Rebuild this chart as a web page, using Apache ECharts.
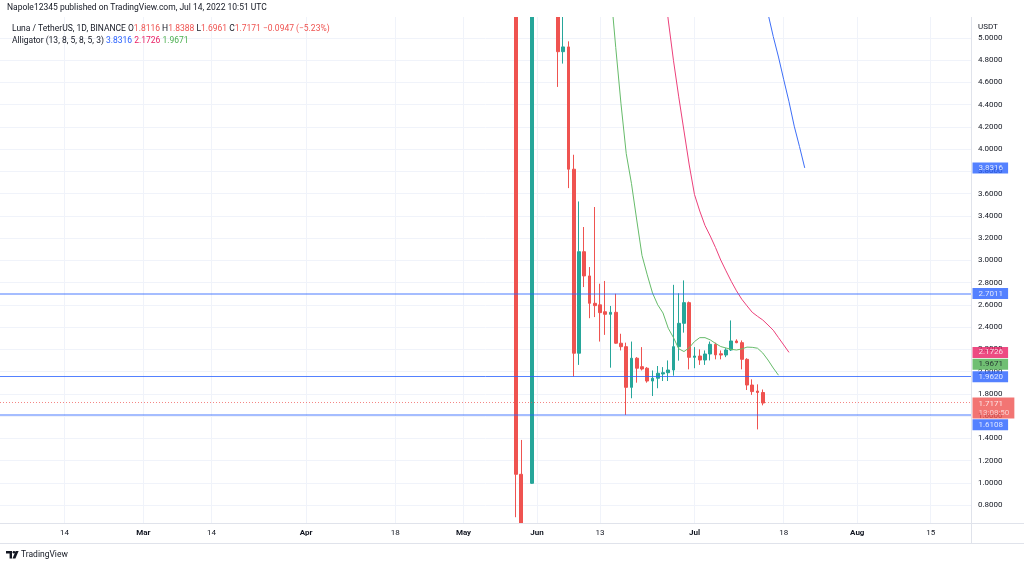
<!DOCTYPE html>
<html><head><meta charset="utf-8">
<script src="https://cdn.jsdelivr.net/npm/echarts@6/dist/echarts.min.js"></script>
<style>html,body{margin:0;padding:0;background:#fff}#c{width:1024px;height:567px}</style>
</head><body><div id="c"></div>
<script>
// TradingView bar-index time scale: index 0 = 2022-06-01
const barIdx   = [-4,-3,-1,4,5,6,7,8,9,10,11,12,13,14,15,16,17,18,19,20,21,22,23,24,25,26,27,28,29,30,31,32,33,34,35,36,37,38,39,40,41,42,43];
const barDates = ['2022-05-11','2022-05-12','2022-05-31','2022-06-05','2022-06-06','2022-06-07','2022-06-08','2022-06-09','2022-06-10','2022-06-11','2022-06-12','2022-06-13','2022-06-14','2022-06-15','2022-06-16','2022-06-17','2022-06-18','2022-06-19','2022-06-20','2022-06-21','2022-06-22','2022-06-23','2022-06-24','2022-06-25','2022-06-26','2022-06-27','2022-06-28','2022-06-29','2022-06-30','2022-07-01','2022-07-02','2022-07-03','2022-07-04','2022-07-05','2022-07-06','2022-07-07','2022-07-08','2022-07-09','2022-07-10','2022-07-11','2022-07-12','2022-07-13','2022-07-14'];
const openV  = [5.6,1.076,0.995,5.6,4.877,4.92,3.82,2.165,3.078,2.86,2.614,2.60,2.538,2.515,2.533,2.255,2.224,1.858,2.12,2.044,2.03,1.915,1.94,1.978,1.99,2.014,2.224,2.434,2.62,2.128,2.14,2.104,2.158,2.245,2.16,2.149,2.194,2.275,2.26,2.11,1.879,1.825,1.8116];
const closeV = [1.076,0.45,6.5,4.877,4.92,3.82,2.165,3.078,2.86,2.614,2.593,2.53,2.515,2.533,2.255,2.224,1.858,2.12,2.03,2.023,1.915,1.94,1.985,1.99,2.014,2.224,2.434,2.62,2.128,2.14,2.104,2.158,2.245,2.15,2.149,2.194,2.275,2.26,2.11,1.879,1.82,1.8118,1.7171];
const lowV   = [0.69,0.40,0.99,4.56,4.77,3.65,1.955,2.06,2.76,2.48,2.49,2.27,2.33,2.035,2.25,2.19,1.61,1.76,1.90,2.01,1.90,1.78,1.85,1.915,1.915,1.963,2.098,2.35,2.02,2.03,2.06,2.06,2.10,2.11,2.11,2.13,2.185,2.255,2.02,1.834,1.79,1.48,1.6961];
const highV  = [6.0,1.385,7.5,5.8,5.4,4.97,3.95,3.53,3.30,2.94,3.48,2.79,2.815,2.59,2.70,2.34,2.26,2.27,2.13,2.22,2.04,2.01,2.05,2.04,2.10,2.78,2.704,2.82,2.63,2.22,2.20,2.19,2.27,2.26,2.19,2.21,2.46,2.29,2.28,2.12,1.93,1.885,1.8388];

// Alligator (13, 8, 5, 8, 5, 3) — values already shifted forward
const lipsStart = 14;
const lipsV  = [5.45,4.915,4.408,3.96,3.69,3.363,3.045,2.87,2.707,2.60,2.527,2.39,2.305,2.205,2.18,2.215,2.27,2.305,2.305,2.285,2.253,2.225,2.212,2.20,2.194,2.203,2.22,2.218,2.21,2.167,2.104,2.032,1.9671];
const teethStart = 24;
const teethV = [5.58,5.162,4.797,4.471,4.164,3.858,3.592,3.444,3.314,3.219,3.116,3.003,2.906,2.812,2.726,2.651,2.591,2.533,2.497,2.464,2.419,2.372,2.305,2.239,2.1726];
const jawStart = 43;
const jawV   = [5.41,5.22,5.014,4.829,4.625,4.427,4.207,4.024,3.8316];

// horizontal lines drawn on the chart
const hLines = [2.7011, 1.9620, 1.6108];
const countdown = '13:08:50';

// axis ticks
const xTickIdx  = [-90,-75,-62,-44,-27,-14,0,12,30,47,61,75];
const xTickText = ['14','Mar','14','Apr','18','May','Jun','13','Jul','18','Aug','15'];
const xTickBold = [false,true,false,true,false,true,true,false,true,false,true,false];
const yTicks = [0.8,1.0,1.2,1.4,1.6,1.8,2.0,2.2,2.4,2.6,2.8,3.0,3.2,3.4,3.6,3.8,4.0,4.2,4.4,4.6,4.8,5.0];

const FONT = 'Roboto';
const UP = '#26a69a', DOWN = '#ef5350';
const X_MIN = -102.29, X_MAX = 82.67, Y_MIN = 0.638, Y_MAX = 5.189;

const candleData = barIdx.map((x, i) => [x, openV[i], closeV[i], lowV[i], highV[i]]);
const mkLine = (start, vals) => vals.map((v, i) => [start + i, v]);

const n = closeV.length;
const lastO = openV[n-1], lastH = highV[n-1], lastL = lowV[n-1], lastC = closeV[n-1], prevC = closeV[n-2];
const chg = lastC - prevC, pct = chg / prevC * 100;
const fmt = (v) => v.toFixed(4);
const sgn = (v, d) => (v < 0 ? '\u2212' : '+') + Math.abs(v).toFixed(d);
const jawLast = jawV[jawV.length-1], teethLast = teethV[teethV.length-1], lipsLast = lipsV[lipsV.length-1];

const badgeBase = {show: true, position: 'right', distance: 1, fontSize: 8, fontFamily: FONT, lineHeight: 9, padding: [1, 5, 1, 6]};
const badges = [
  {value: [0, jawLast],   label: Object.assign({}, badgeBase, {backgroundColor: '#2962ff', color: '#fff', offset: [0, 0], formatter: fmt(jawLast)})},
  {value: [0, hLines[0]], label: Object.assign({}, badgeBase, {backgroundColor: '#2962ff', color: '#fff', offset: [0, 0], formatter: fmt(hLines[0])})},
  {value: [0, teethLast], label: Object.assign({}, badgeBase, {backgroundColor: '#e91e63', color: '#fff', offset: [0, 0], formatter: fmt(teethLast)})},
  {value: [0, lipsLast],  label: Object.assign({}, badgeBase, {backgroundColor: '#4caf50', color: '#131722', offset: [0, -11], formatter: fmt(lipsLast)})},
  {value: [0, hLines[1]], label: Object.assign({}, badgeBase, {backgroundColor: '#2962ff', color: '#fff', offset: [0, 1], formatter: fmt(hLines[1])})},
  {value: [0, hLines[2]], label: Object.assign({}, badgeBase, {backgroundColor: '#2962ff', color: '#fff', offset: [0, 10], formatter: fmt(hLines[2])})},
  {value: [0, lastC],     label: Object.assign({}, badgeBase, {backgroundColor: '#ef5350', color: '#fff', offset: [0, 5], padding: [2, 5, 1, 6],
      formatter: '{a|' + fmt(lastC) + '}\n{b|' + countdown + '}',
      rich: {a: {color: '#fff', fontSize: 8, fontFamily: FONT, lineHeight: 9}, b: {color: 'rgba(255,255,255,0.8)', fontSize: 8, fontFamily: FONT, lineHeight: 9}}})}
];

const F = (s) => s + 'px ' + FONT;

const chart = echarts.init(document.getElementById('c'), null, {renderer: 'canvas'});
chart.setOption({
  animation: false,
  backgroundColor: '#ffffff',
  grid: [
    {left: 0, right: 53, top: 17, bottom: 44},
    {left: 971, right: 0, top: 17, bottom: 44}
  ],
  xAxis: [
    {type: 'value', gridIndex: 0, position: 'bottom', min: X_MIN, max: X_MAX, z: 101,
     axisLine: {show: false}, axisTick: {show: false, customValues: xTickIdx},
     splitLine: {show: false},
     axisLabel: {customValues: xTickIdx, margin: 6, color: '#131722', fontSize: 8, fontFamily: FONT,
       formatter: (v) => { const k = xTickIdx.findIndex(t => Math.abs(t - v) < 1e-6); if (k < 0) return ''; return xTickBold[k] ? '{b|' + xTickText[k] + '}' : xTickText[k]; },
       rich: {b: {fontWeight: 'bold', fontSize: 8, fontFamily: FONT, color: '#131722'}}}},
    {type: 'value', gridIndex: 0, position: 'top', min: X_MIN, max: X_MAX,
     axisLine: {show: false}, axisTick: {show: false, customValues: xTickIdx}, axisLabel: {show: false, customValues: xTickIdx},
     splitLine: {show: true, lineStyle: {color: '#f0f3fa', width: 1}}},
    {type: 'value', gridIndex: 1, min: 0, max: 1, show: false}
  ],
  yAxis: [
    {type: 'value', gridIndex: 0, position: 'right', min: Y_MIN, max: Y_MAX,
     axisLine: {show: false}, axisTick: {show: false, customValues: yTicks},
     splitLine: {show: true, lineStyle: {color: '#f0f3fa', width: 1}},
     axisLabel: {customValues: yTicks, margin: 7, color: '#131722', fontSize: 8, fontFamily: FONT, formatter: (v) => v.toFixed(4)}},
    {type: 'value', gridIndex: 1, min: Y_MIN, max: Y_MAX, show: false}
  ],
  series: [
    {type: 'candlestick', name: 'LUNAUSDT', xAxisIndex: 0, yAxisIndex: 0, clip: true, barWidth: 3.4,
     dimensions: ['idx', 'open', 'close', 'lowest', 'highest'], encode: {x: 0, y: [1, 2, 3, 4]},
     data: candleData,
     itemStyle: {color: UP, color0: DOWN, borderColor: UP, borderColor0: DOWN, borderWidth: 1},
     markLine: {silent: true, symbol: ['none', 'none'], label: {show: false}, animation: false,
       data: [
         {yAxis: hLines[0], lineStyle: {color: 'rgba(41,98,255,0.42)', width: 2, type: 'solid'}},
         {yAxis: hLines[1], lineStyle: {color: 'rgba(41,98,255,0.8)', width: 1, type: 'solid'}},
         {yAxis: hLines[2], lineStyle: {color: 'rgba(41,98,255,0.42)', width: 2, type: 'solid'}},
         {yAxis: lastC, lineStyle: {color: 'rgba(239,83,80,0.7)', width: 1, type: [1, 2]}}
       ]}},
    {type: 'line', name: 'Lips', xAxisIndex: 0, yAxisIndex: 0, data: mkLine(lipsStart, lipsV), showSymbol: false, symbol: 'none', clip: true, z: 3,
     lineStyle: {color: '#66bb6a', width: 1}},
    {type: 'line', name: 'Teeth', xAxisIndex: 0, yAxisIndex: 0, data: mkLine(teethStart, teethV), showSymbol: false, symbol: 'none', clip: true, z: 3,
     lineStyle: {color: '#ec407a', width: 1}},
    {type: 'line', name: 'Jaw', xAxisIndex: 0, yAxisIndex: 0, data: mkLine(jawStart, jawV), showSymbol: false, symbol: 'none', clip: true, z: 3,
     lineStyle: {color: '#3d6ef7', width: 1}},
    {type: 'scatter', name: 'badges', xAxisIndex: 2, yAxisIndex: 1, symbolSize: 1, itemStyle: {color: 'rgba(0,0,0,0)'}, silent: true, z: 10,
     data: badges}
  ],
  graphic: [
    // masks outside the plotting pane
    {type: 'rect', silent: true, z: 50, shape: {x: 0, y: 0, width: 971, height: 17}, style: {fill: '#ffffff'}},
    {type: 'rect', silent: true, z: 50, shape: {x: 0, y: 523.5, width: 971, height: 44}, style: {fill: '#ffffff'}},
    {type: 'line', silent: true, z: 51, shape: {x1: 0, y1: 523.5, x2: 1024, y2: 523.5}, style: {stroke: '#e0e3eb', lineWidth: 1}},
    {type: 'line', silent: true, z: 51, shape: {x1: 0, y1: 543.5, x2: 1024, y2: 543.5}, style: {stroke: '#e0e3eb', lineWidth: 1}},
    {type: 'line', silent: true, z: 51, shape: {x1: 971.5, y1: 17, x2: 971.5, y2: 543.5}, style: {stroke: '#e0e3eb', lineWidth: 1}},
    {type: 'text', silent: true, z: 51, x: 7, y: 7.5, style: {text: 'Napole12345 published on TradingView.com, Jul 14, 2022 10:51 UTC', font: F(8.5), fill: '#131722', verticalAlign: 'middle'}},
    {type: 'text', silent: true, z: 51, x: 12, y: 29, style: {
      text: '{n|Luna / TetherUS, 1D, BINANCE} {n|O}{r|' + fmt(lastO) + '} {n|H}{r|' + fmt(lastH) + '} {n|L}{r|' + fmt(lastL) + '} {n|C}{r|' + fmt(lastC) + '} {r|' + sgn(chg, 4) + ' (' + sgn(pct, 2) + '%)}',
      font: F(8.5), verticalAlign: 'middle',
      rich: {n: {fill: '#131722', font: F(8.5)}, r: {fill: '#ef5350', font: F(8.5)}}}},
    {type: 'text', silent: true, z: 51, x: 12, y: 40.5, style: {
      text: '{n|Alligator (13, 8, 5, 8, 5, 3)} {b|' + fmt(jawLast) + '} {p|' + fmt(teethLast) + '} {g|' + fmt(lipsLast) + '}',
      font: F(8.5), verticalAlign: 'middle',
      rich: {n: {fill: '#131722', font: F(8.5)}, b: {fill: '#2962ff', font: F(8.5)}, p: {fill: '#e91e63', font: F(8.5)}, g: {fill: '#4caf50', font: F(8.5)}}}},
    {type: 'text', silent: true, z: 51, x: 978, y: 27, style: {text: 'USDT', font: F(8), fill: '#131722', verticalAlign: 'middle'}},
    {type: 'polygon', silent: true, z: 51, shape: {points: [[6,551],[12,551],[12,558.5],[9.6,558.5],[9.6,553.4],[6,553.4]]}, style: {fill: '#131722'}},
    {type: 'circle', silent: true, z: 51, shape: {cx: 13.9, cy: 552.3, r: 1.3}, style: {fill: '#131722'}},
    {type: 'polygon', silent: true, z: 51, shape: {points: [[15.6,551],[18.6,551],[15.4,558.5],[12.5,558.5]]}, style: {fill: '#131722'}},
    {type: 'text', silent: true, z: 51, x: 21, y: 555, style: {text: 'TradingView', font: F(8.5), fill: '#131722', verticalAlign: 'middle'}}
  ]
});
</script>
</body></html>
